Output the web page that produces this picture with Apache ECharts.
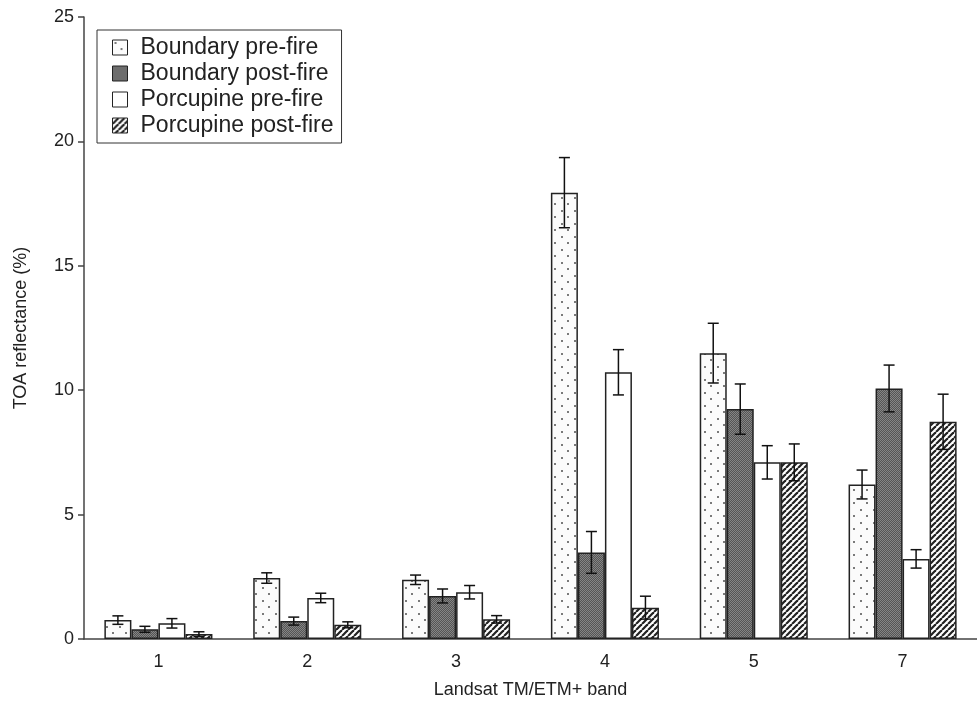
<!DOCTYPE html>
<html>
<head>
<meta charset="utf-8">
<script src="https://cdn.jsdelivr.net/npm/echarts@6/dist/echarts.min.js"></script>
<style>
  html, body { margin: 0; padding: 0; background: #fff; }
  #chart { width: 977px; height: 706px; }
</style>
</head>
<body>
<div id="chart"></div>
<script>
// bands on the x axis
const bands = ['1', '2', '3', '4', '5', '7']
const seriesNames = ['Boundary pre-fire', 'Boundary post-fire', 'Porcupine pre-fire', 'Porcupine post-fire']

// mean TOA reflectance (%) per band
const boundaryPre = [0.76, 2.45, 2.38, 17.94, 11.49, 6.21]
const boundaryPost = [0.39, 0.72, 1.73, 3.48, 9.24, 10.07]
const porcupinePre = [0.63, 1.65, 1.88, 10.72, 7.1, 3.22]
const porcupinePost = [0.2, 0.57, 0.79, 1.26, 7.1, 8.73]

// +/- error per band
const boundaryPreErr = [0.17, 0.21, 0.19, 1.41, 1.2, 0.58]
const boundaryPostErr = [0.12, 0.16, 0.28, 0.84, 1.01, 0.94]
const porcupinePreErr = [0.19, 0.19, 0.27, 0.91, 0.67, 0.37]
const porcupinePostErr = [0.09, 0.12, 0.15, 0.46, 0.74, 1.11]

const values = [boundaryPre, boundaryPost, porcupinePre, porcupinePost]
const errors = [boundaryPreErr, boundaryPostErr, porcupinePreErr, porcupinePostErr]

const CAT_GAP = 0.274

// --- fill patterns (small canvases, tiled) ---
function makeCanvas(w, h) {
  const c = document.createElement('canvas')
  c.width = w
  c.height = h
  return c
}

function dotPattern() {
  const c = makeCanvas(13, 13)
  const ctx = c.getContext('2d')
  ctx.fillStyle = '#fbfbfb'
  ctx.fillRect(0, 0, 13, 13)
  ctx.fillStyle = '#7a7a7a'
  ctx.fillRect(2, 2, 2, 2)
  ctx.fillRect(8, 8, 2, 2)
  return c
}

function darkPattern() {
  const c = makeCanvas(2, 2)
  const ctx = c.getContext('2d')
  ctx.fillStyle = '#555555'
  ctx.fillRect(0, 0, 2, 2)
  ctx.fillStyle = '#858585'
  ctx.fillRect(0, 0, 1, 1)
  ctx.fillRect(1, 1, 1, 1)
  return c
}

function hatchPattern() {
  const s = 6
  const c = makeCanvas(s, s)
  const ctx = c.getContext('2d')
  ctx.fillStyle = '#ffffff'
  ctx.fillRect(0, 0, s, s)
  ctx.strokeStyle = '#222'
  ctx.lineWidth = 2.2
  for (const k of [-s, 0, s]) {
    ctx.beginPath()
    ctx.moveTo(k, s)
    ctx.lineTo(k + s, 0)
    ctx.stroke()
  }
  return c
}

const fills = [
  { image: dotPattern(), repeat: 'repeat' },
  { image: darkPattern(), repeat: 'repeat' },
  '#ffffff',
  { image: hatchPattern(), repeat: 'repeat' }
]

const barSeries = values.map((vals, i) => ({
  name: seriesNames[i],
  type: 'bar',
  data: vals,
  barGap: '0%',
  barCategoryGap: (CAT_GAP * 100) + '%',
  itemStyle: { color: fills[i], borderColor: '#222', borderWidth: 1.5 },
  emphasis: { disabled: true }
}))

// error bars drawn with a custom series, shifted onto each bar
const errSeries = values.map((vals, i) => ({
  name: 'err' + i,
  type: 'custom',
  z: 5,
  silent: true,
  encode: { x: 0, y: [1, 2] },
  data: vals.map((v, j) => [j, v - errors[i][j], v + errors[i][j]]),
  renderItem: (params, api) => {
    const band = api.size([1, 0])[0]
    const bw = band * (1 - CAT_GAP) / 4
    const cx = api.coord([api.value(0), 0])[0] + (i - 1.5) * bw
    const lo = api.coord([api.value(0), api.value(1)])[1]
    const hi = api.coord([api.value(0), api.value(2)])[1]
    const cap = 5.5
    const style = { stroke: '#111', lineWidth: 1.5 }
    return {
      type: 'group',
      children: [
        { type: 'line', shape: { x1: cx, y1: lo, x2: cx, y2: hi }, style },
        { type: 'line', shape: { x1: cx - cap, y1: lo, x2: cx + cap, y2: lo }, style },
        { type: 'line', shape: { x1: cx - cap, y1: hi, x2: cx + cap, y2: hi }, style }
      ]
    }
  }
}))

const chart = echarts.init(document.getElementById('chart'))

const textColor = '#222'
const fontFamily = 'Liberation Sans, Arial, sans-serif'

chart.setOption({
  animation: false,
  backgroundColor: '#fff',
  textStyle: { fontFamily },
  grid: { left: 84, right: -10, top: 17, bottom: 67 },
  legend: {
    data: seriesNames,
    orient: 'vertical',
    left: 97,
    top: 30,
    itemWidth: 15,
    itemHeight: 15,
    itemGap: 3,
    padding: [6, 8, 6, 15],
    borderColor: '#333',
    borderWidth: 1,
    icon: 'rect',
    selectedMode: false,
    itemStyle: { borderColor: '#222', borderWidth: 1 },
    textStyle: { fontSize: 23, color: textColor, fontFamily, padding: [0, 0, 0, 8] }
  },
  xAxis: {
    type: 'category',
    data: bands,
    name: 'Landsat TM/ETM+ band',
    nameLocation: 'middle',
    nameGap: 42,
    nameTextStyle: { fontSize: 18, color: textColor },
    axisLine: { lineStyle: { color: '#444', width: 1.5 } },
    axisTick: { length: 8, lineStyle: { color: '#444', width: 1.5 } },
    axisLabel: { fontSize: 18, color: textColor, margin: 14 }
  },
  yAxis: {
    type: 'value',
    min: 0,
    max: 25,
    interval: 5,
    name: 'TOA reflectance (%)',
    nameLocation: 'middle',
    nameGap: 54,
    nameTextStyle: { fontSize: 18, color: textColor },
    splitLine: { show: false },
    axisLine: { show: true, lineStyle: { color: '#444', width: 1.5 } },
    axisTick: { show: true, length: 6, lineStyle: { color: '#444', width: 1.5 } },
    axisLabel: { fontSize: 18, color: textColor, margin: 10 }
  },
  series: [...barSeries, ...errSeries]
})
</script>
</body>
</html>
